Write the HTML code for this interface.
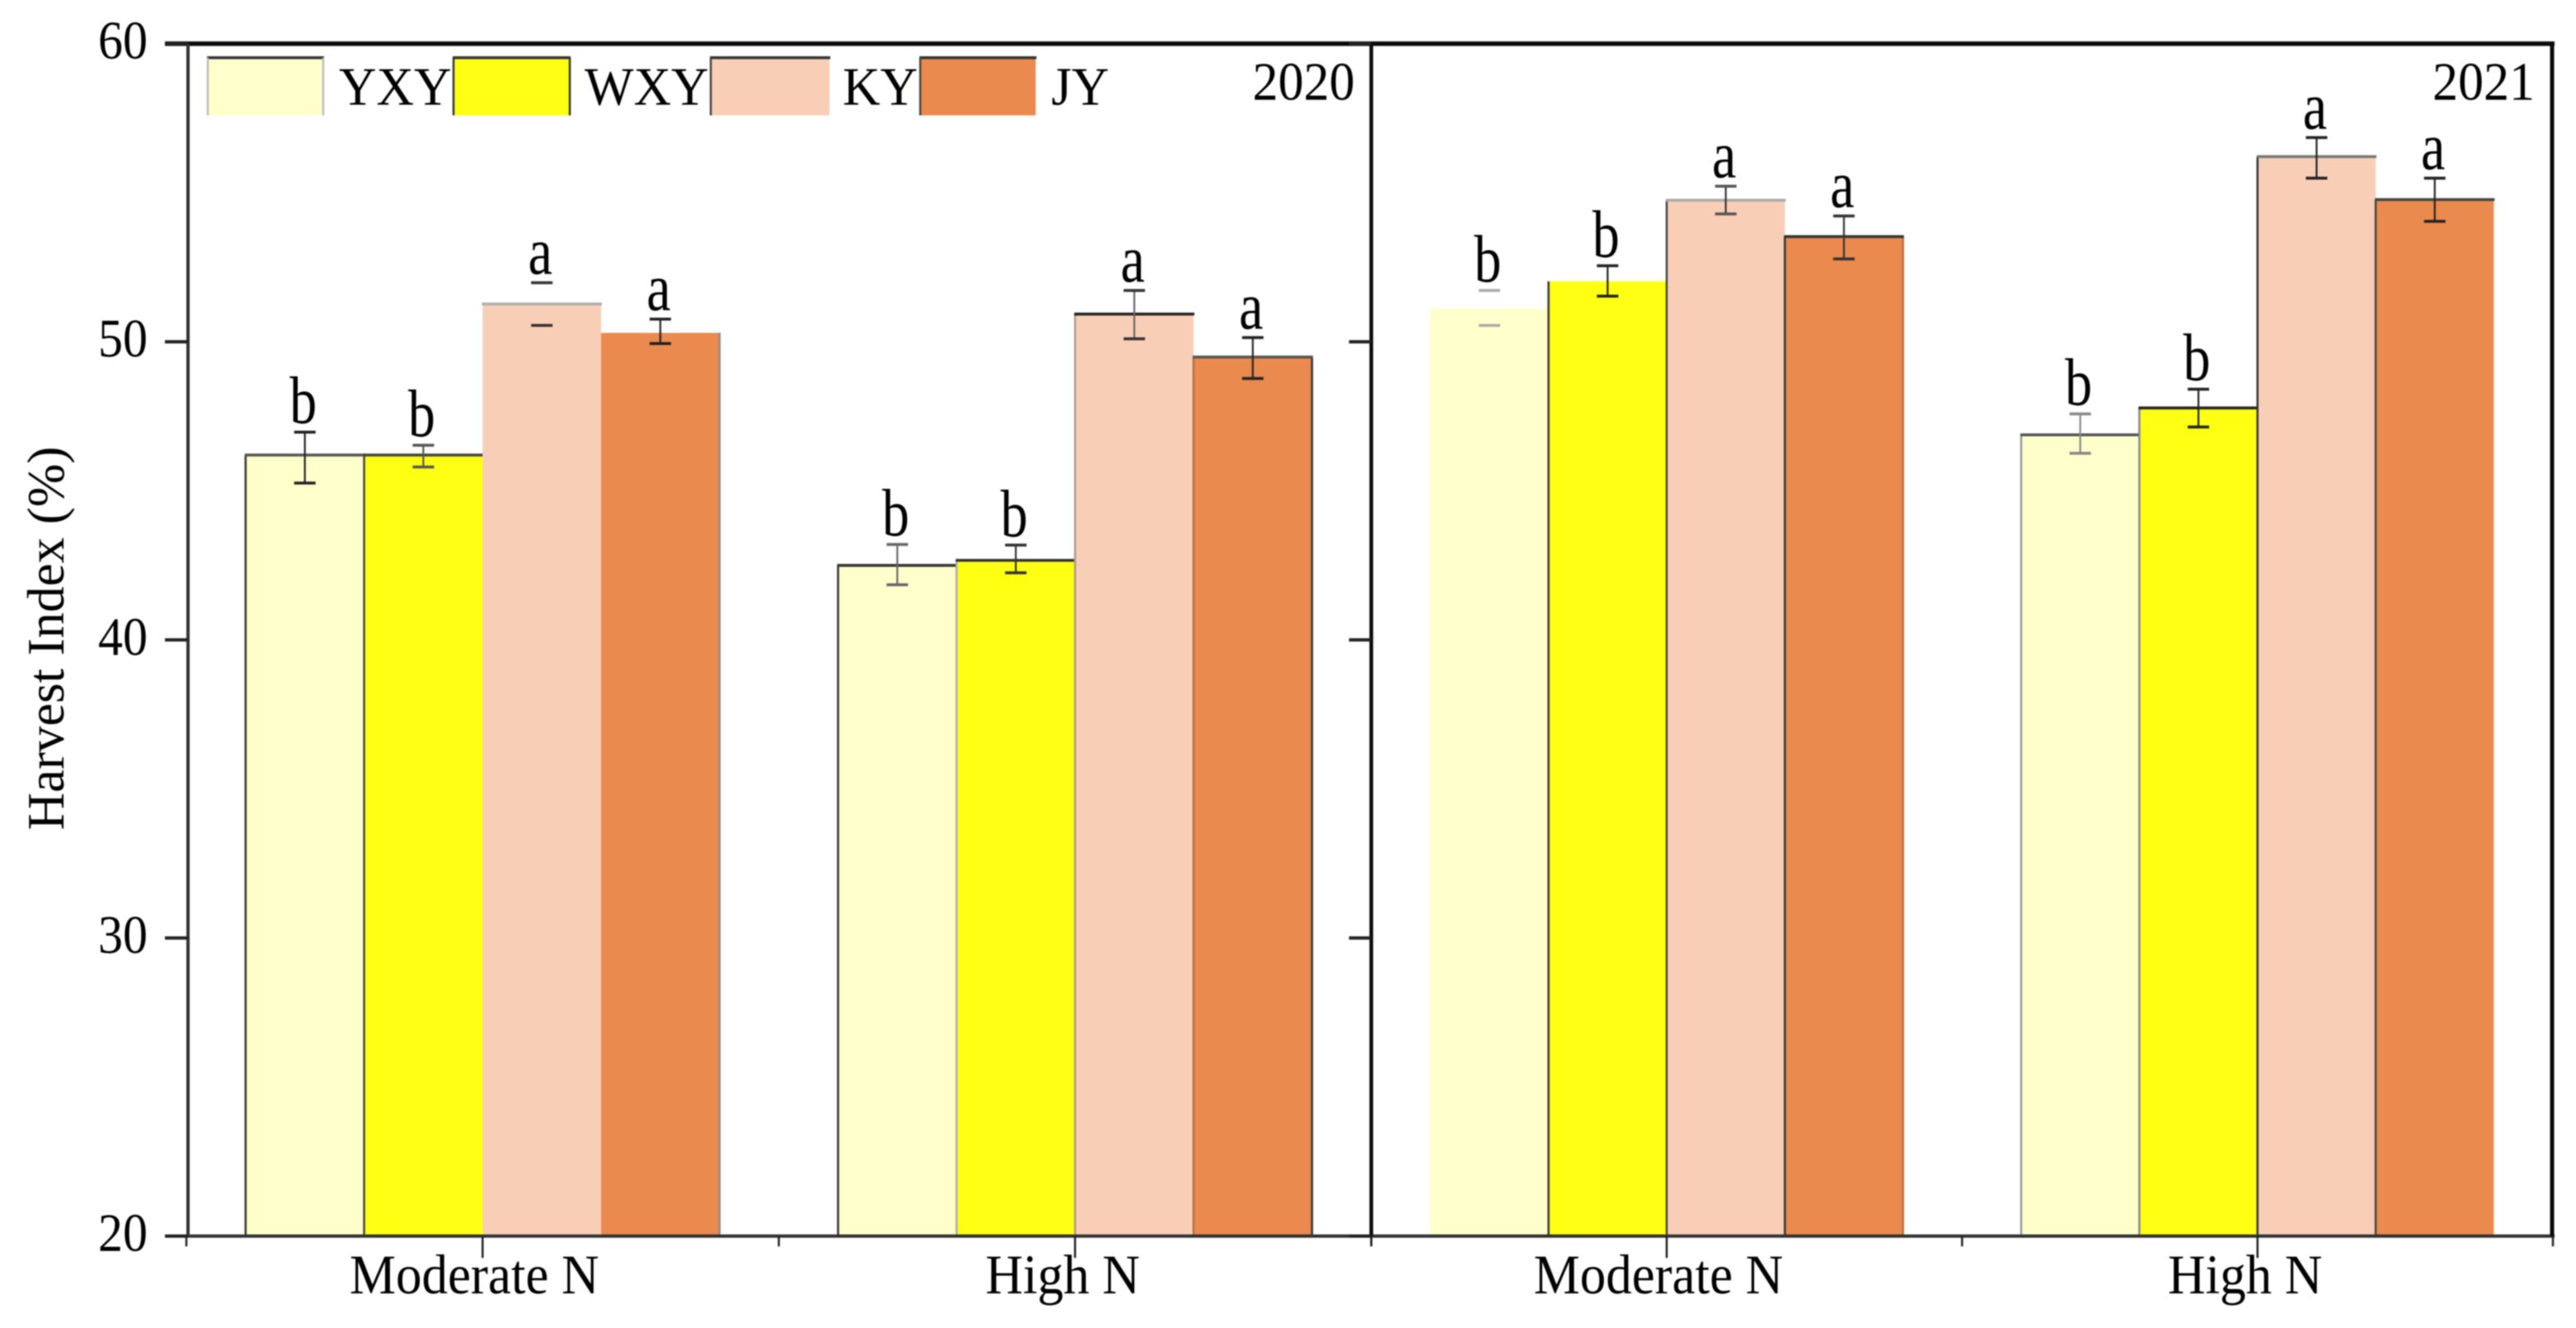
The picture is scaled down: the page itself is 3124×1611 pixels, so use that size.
<!DOCTYPE html>
<html lang="en">
<head>
<meta charset="utf-8">
<title>Harvest Index by Variety and Nitrogen Level</title>
<style>
  html, body { margin: 0; padding: 0; background: #fff; }
  body { width: 3124px; height: 1611px; overflow: hidden; }
  svg { display: block; filter: blur(0.7px); }
  text { font-family: "Liberation Serif", "Times New Roman", serif; fill: #000; }
</style>
</head>
<body>
<svg id="chart" xmlns="http://www.w3.org/2000/svg" width="3124" height="1611" viewBox="0 0 3124 1611"></svg>
<script>
/* ---- chart data ---- */
const years = ['2020', '2021'];
const categories = ['Moderate N', 'High N'];
const varieties = ['YXY', 'WXY', 'KY', 'JY'];
const yTicks = [20, 30, 40, 50, 60];

/* order: 2020 Moderate, 2020 High, 2021 Moderate, 2021 High */
const yxyValues = [46.2, 42.5, 51.12, 46.88];
const wxyValues = [46.2, 42.67, 52.03, 47.78];
const kyValues  = [51.27, 50.93, 54.75, 56.21];
const jyValues  = [50.3, 49.49, 53.53, 54.77];

const yxyErrHigh = [46.97, 43.2, 51.72, 47.58];
const wxyErrHigh = [46.53, 43.18, 52.55, 48.41];
const kyErrHigh  = [51.98, 51.72, 55.22, 56.85];
const jyErrHigh  = [50.76, 50.14, 54.22, 55.49];

const yxyErrLow = [45.26, 41.85, 50.55, 46.26];
const wxyErrLow = [45.8, 42.25, 51.53, 47.14];
const kyErrLow  = [50.55, 50.1, 54.29, 55.49];
const jyErrLow  = [49.94, 48.77, 52.78, 54.04];

const yxyLetters = ['b', 'b', 'b', 'b'];
const wxyLetters = ['b', 'b', 'b', 'b'];
const kyLetters  = ['a', 'a', 'a', 'a'];
const jyLetters  = ['a', 'a', 'a', 'a'];

const allValues  = [yxyValues, wxyValues, kyValues, jyValues];
const allHigh    = [yxyErrHigh, wxyErrHigh, kyErrHigh, jyErrHigh];
const allLow     = [yxyErrLow, wxyErrLow, kyErrLow, jyErrLow];
const allLetters = [yxyLetters, wxyLetters, kyLetters, jyLetters];

/* ---- axis functions ---- */
const plotTop = 53, plotBottom = 1499.5, yMin = 20, yMax = 60;
function y(v) { return plotBottom - (v - yMin) / (yMax - yMin) * (plotBottom - plotTop); }
const panelEdges = [226, 1663, 3096];
function catWidth(p) { return (panelEdges[p + 1] - panelEdges[p]) / categories.length; }
function catCenter(p, c) { return panelEdges[p] + (c + 0.5) * catWidth(p); }
function barWidth(p) { return catWidth(p) * 0.8 / varieties.length; }
function barLeft(p, c, s) { return catCenter(p, c) + (s - varieties.length / 2) * barWidth(p); }

/* ---- styling ---- */
const fills = ['#FFFFCC', '#FFFF14', '#F8CFB6', '#EB8A4E'];
const topEdge = [
  ['#555', '#444', '#b0aeb0', 'none'],
  ['#333', '#333', '#222', '#555'],
  ['none', 'none', '#aaa', '#333'],
  ['#555', '#222', '#777', '#444']
];
const leftEdge = [
  ['#333', '#444', 'none', 'none'],
  ['#333', '#aaa', '#b09a8c', '#b5713f'],
  ['none', '#333', '#444', '#333'],
  ['#999', '#888', '#333', '#444']
];
const rightEdge = ['#888', '#333', '#b5713f', 'none'];
const errTone = [
  ['#222', '#555', '#333', '#222'],
  ['#666', '#333', '#333', '#222'],
  ['#aaa', '#222', '#555', '#333'],
  ['#888', '#222', '#222', '#222']
];
const stemTone = [
  ['#222', '#555', 'none', '#222'],
  ['#666', '#333', '#666', '#222'],
  ['none', '#222', '#333', '#333'],
  ['#888', '#222', '#222', '#222']
];

const svg = document.getElementById('chart');
const NS = 'http://www.w3.org/2000/svg';
function make(tag, attrs, parent) {
  const el = document.createElementNS(NS, tag);
  for (const k in attrs) el.setAttribute(k, attrs[k]);
  (parent || svg).appendChild(el);
  return el;
}
function line(x1, y1, x2, y2, stroke, w, parent) {
  return make('line', { x1: x1, y1: y1, x2: x2, y2: y2, stroke: stroke, 'stroke-width': w }, parent);
}
function label(str, x, yy, size, sy, anchor, parent) {
  const t = make('text', {
    transform: 'translate(' + x + ',' + yy + ') scale(1,' + sy + ')',
    'font-size': size,
    'text-anchor': anchor
  }, parent);
  t.textContent = str;
  return t;
}

/* ---- bars ---- */
years.forEach(function (yr, p) {
  categories.forEach(function (cat, c) {
    const idx = p * categories.length + c;
    varieties.forEach(function (name, s) {
      const g = make('g', {});
      
      
      const x0 = barLeft(p, c, s), w = barWidth(p), top = y(allValues[s][idx]);
      const bar = make('rect', { x: x0, y: top, width: w, height: plotBottom - top, fill: fills[s] }, g);
      
      
      if (leftEdge[idx][s] !== 'none') line(x0, top, x0, plotBottom, leftEdge[idx][s], 2.5, g);
      if (s === varieties.length - 1 && rightEdge[idx] !== 'none') line(x0 + w, top, x0 + w, plotBottom, rightEdge[idx], 2.5, g);
      if (topEdge[idx][s] !== 'none') line(x0 - 1, top, x0 + w + 1, top, topEdge[idx][s], 3.5, g);

      const cx = x0 + w / 2, hi = y(allHigh[s][idx]), lo = y(allLow[s][idx]), tone = errTone[idx][s];
      const err = make('g', {}, g);
      
      
      if (stemTone[idx][s] !== 'none') line(cx, hi, cx, lo, stemTone[idx][s], 2.2, err);
      line(cx - 13, hi, cx + 13, hi, tone, 3.5, err);
      line(cx - 13, lo, cx + 13, lo, tone, 3.5, err);

      const letter = label(allLetters[s][idx], cx - 2, hi - 11, 66, 1.24, 'middle', g);
      
      
    });
  });
});

/* ---- frame ---- */
const frame = make('g', {});


line(200, plotTop, 3098, plotTop, '#0a0a0a', 5.5, frame);
line(200, plotBottom, 3098, plotBottom, '#333', 4, frame);
line(228, plotTop, 228, plotBottom, '#333', 4, frame);
line(1663, plotTop, 1663, plotBottom, '#0a0a0a', 4.5, frame);
line(3095, plotTop, 3095, plotBottom, '#0a0a0a', 5, frame);

/* ---- y axis ---- */
const yAxis = make('g', {});


yTicks.forEach(function (t) {
  const yy = y(t);
  const tick = line(200, yy, 228, yy, '#222', 4, yAxis);
  
  
  line(1636, yy, 1663, yy, '#222', 4, yAxis);
  const tl = label(String(t), 179, yy + 18, 60, 1.1, 'end', yAxis);
  
  
});
const yTitle = make('text', { transform: 'translate(77,1007) rotate(-90)', 'font-size': 63, 'text-anchor': 'start' });
yTitle.textContent = 'Harvest Index (%)';



/* ---- x axis ---- */
const xAxis = make('g', {});


years.forEach(function (yr, p) {
  for (let i = 0; i <= categories.length; i++) {
    const xx = panelEdges[p] + i * catWidth(p);
    line(xx, plotBottom, xx, 1512, '#222', 2.5, xAxis);
  }
  categories.forEach(function (cat, c) {
    const xx = catCenter(p, c);
    line(xx, plotBottom, xx, 1526, '#222', 2.5, xAxis);
    const tl = label(cat, xx - (c === 0 ? 10 : 15), 1569, 63, 1.07, 'middle', xAxis);
    
    
  });
});

/* ---- legend ---- */
const legend = make('g', {});


const swatchLeft = [252, 550, 862, 1116];
const swatchRight = [392, 691, 1006, 1256];
const legendTextX = [411, 709, 1022, 1275];
const swatchSide = ['#bbb', '#333', '#444', '#444'];
varieties.forEach(function (name, s) {
  const g = make('g', {}, legend);
  
  
  const sw = make('rect', { x: swatchLeft[s], y: 70, width: swatchRight[s] - swatchLeft[s], height: 70, fill: fills[s] }, g);
  
  
  line(swatchLeft[s] - 1, 70, swatchRight[s] + 1, 70, '#333', 3.5, g);
  line(swatchLeft[s], 70, swatchLeft[s], 140, swatchSide[s], 2.5, g);
  if (s < 2) line(swatchRight[s], 70, swatchRight[s], 140, swatchSide[s], 2.5, g);
  const tx = label(name, legendTextX[s], 127, 63, 1.05, 'start', g);
  
  
});

/* ---- panel year labels ---- */
const yearLeft = label(years[0], 1519, 121, 62, 1.06, 'start');


const yearRight = label(years[1], 2950, 121, 62, 1.06, 'start');


</script>
</body>
</html>
